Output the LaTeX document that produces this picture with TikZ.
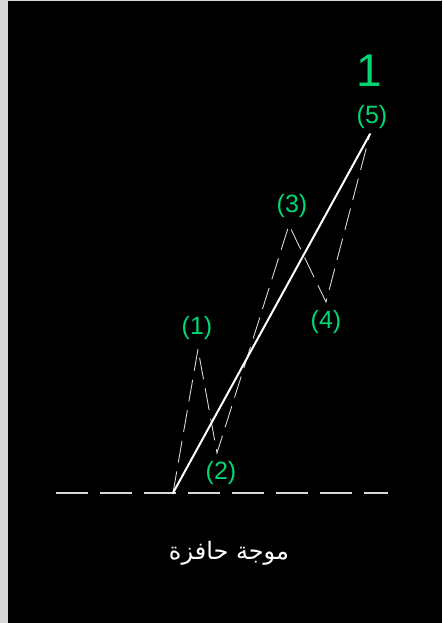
\documentclass[tikz,border=0pt]{standalone}
\usepackage{fontspec}
\setmainfont{Liberation Sans}
\newfontfamily\arabicfont[Script=Arabic]{DejaVu Sans}
\TeXXeTstate=1
\definecolor{verde}{RGB}{0,215,115}
\definecolor{grigio}{RGB}{215,215,215}
\tikzset{
  etichetta/.style={text=verde,font=\fontsize{25}{30}\selectfont,inner sep=0pt},
  onda/.style={draw=grigio,line width=0.9pt,dash pattern=on 22pt off 9pt},
  base/.style={draw=grigio,line width=1.6pt,dash pattern=on 32pt off 12pt}
}
\begin{document}
\begin{tikzpicture}[x=1pt,y=-1pt]
  % sfondo
  \fill[grigio] (0,0) rectangle (442,623);
  \fill[black] (8,1) rectangle (442,623);
  \useasboundingbox (0,0) rectangle (442,623);

  % punti
  \coordinate (p0) at (173,493);
  \coordinate (p1) at (198,349);
  \coordinate (p2) at (217,453);
  \coordinate (p3) at (289,225);
  \coordinate (p4) at (326,302);
  \coordinate (p5) at (370,134);
  \coordinate (bsx) at (56,493);
  \coordinate (bdx) at (388,493);

  % base
  \draw[base] (bsx) -- (bdx);

  % onda
  \draw[onda] (p0) -- (p1) -- (p2) -- (p3) -- (p4) -- (p5);
  \draw[white,line width=2pt,line cap=round] (p0) -- (p5);

  % etichette
  \node[etichetta] (e1) at (197,328) {(1)};
  \node[etichetta] (e2) at (221,473) {(2)};
  \node[etichetta] (e3) at (292,206) {(3)};
  \node[etichetta] (e4) at (326,322) {(4)};
  \node[etichetta] (e5) at (372,117) {(5)};
  \node[text=verde,font=\fontsize{46}{52}\selectfont,inner sep=0pt] (uno) at (369,71) {1};

  % titolo
  \node[white,font=\fontsize{24}{28}\selectfont\arabicfont,inner sep=0pt] (titolo) at (229,553) {\beginR موجة حافزة\endR};
\end{tikzpicture}
\end{document}
